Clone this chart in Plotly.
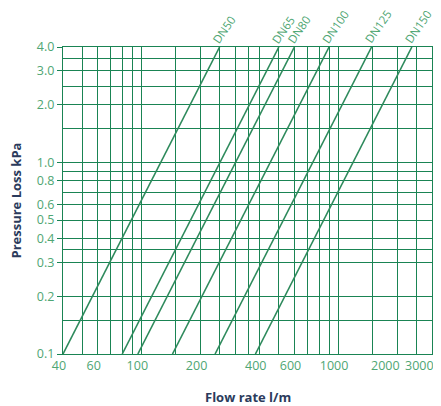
import plotly.graph_objects as go
import math

# Data: each valve size is a straight line on log-log axes from 0.1 kPa to 4.0 kPa
sizes = ["DN50", "DN65", "DN80", "DN100", "DN125", "DN150"]
flow_at_low = [40, 80, 96, 144, 237, 380]        # l/m at 0.1 kPa
flow_at_high = [250, 500, 600, 900, 1480, 2370]  # l/m at 4.0 kPa
pressure_low = 0.1
pressure_high = 4.0

x_grid = [40, 50, 60, 70, 80, 90, 100, 150, 200, 250, 300, 350, 400, 500, 600,
          700, 800, 900, 1000, 1500, 2000, 2500, 3000]
x_ticks = [40, 60, 100, 200, 400, 600, 1000]
x_end_ticks = [2000, 3000]
y_grid = [0.1, 0.15, 0.2, 0.3, 0.35, 0.4, 0.5, 0.6, 0.7, 0.8, 0.9, 1.0, 1.5,
          2.0, 2.5, 3.0, 3.5, 4.0]
y_ticks = [0.1, 0.2, 0.3, 0.4, 0.5, 0.6, 0.8, 1.0, 2.0, 3.0, 4.0]
y_ticktext = ["0.1", "0.2", "0.3", "0.4", "0.5", "0.6", "0.8", "1.0", "2.0", "3.0", "4.0"]

grid_color = "#1a8454"
line_color = "#2e8a5c"
label_color = "#4fa673"
title_color = "#2b3b5c"
font_family = "Open Sans, Noto Sans, sans-serif"

fig = go.Figure()
for name, q0, q1 in zip(sizes, flow_at_low, flow_at_high):
    fig.add_trace(go.Scatter(
        x=[q0, q1], y=[pressure_low, pressure_high], mode="lines",
        line=dict(color=line_color, width=1.6), name=name, showlegend=False,
        hoverinfo="skip"))
    fig.add_annotation(
        x=math.log10(q1), y=math.log10(pressure_high), xref="x", yref="y",
        text=name, textangle=-55, showarrow=False,
        xanchor="left", yanchor="bottom", xshift=-13, yshift=-2,
        font=dict(family=font_family, size=11.5, color=label_color))

# the last two x tick labels are pulled left, as in the reference, to stay inside the picture
for v, shift in zip(x_end_ticks, [-12, -13]):
    fig.add_annotation(
        x=math.log10(v), y=0, xref="x", yref="paper",
        text=str(v), showarrow=False, xanchor="center", yanchor="top",
        xshift=shift, yshift=-1,
        font=dict(family=font_family, size=12.5, color=label_color))

fig.add_annotation(
    x=0.5, y=-0.14, xref="paper", yref="paper", text="<b>Flow rate l/m</b>",
    showarrow=False, xanchor="center", yanchor="middle",
    font=dict(family=font_family, size=13, color=title_color))
fig.add_annotation(
    x=-0.13, y=0.5, xref="paper", yref="paper", text="<b>Pressure Loss kPa</b>",
    showarrow=False, xanchor="center", yanchor="middle", textangle=-90,
    font=dict(family=font_family, size=13, color=title_color))

fig.update_xaxes(
    type="log", range=[math.log10(40), math.log10(3000)], automargin=False,
    tickvals=x_ticks, ticktext=[str(v) for v in x_ticks],
    showgrid=True, gridcolor=grid_color, gridwidth=1.3,
    minor=dict(tickvals=x_grid, showgrid=True, gridcolor=grid_color, gridwidth=1.3, ticks=""),
    ticks="", ticklabelshift=-4,
    tickfont=dict(family=font_family, size=12.5, color=label_color),
    showline=True, linecolor=grid_color, linewidth=1.3, mirror=True,
    zeroline=False,
)
fig.update_yaxes(
    type="log", range=[math.log10(0.1), math.log10(4.0)], automargin=False,
    tickvals=y_ticks, ticktext=y_ticktext,
    showgrid=True, gridcolor=grid_color, gridwidth=1.3,
    minor=dict(tickvals=y_grid, showgrid=True, gridcolor=grid_color, gridwidth=1.3, ticks=""),
    ticks="outside", ticklen=5, tickcolor=grid_color, tickwidth=1.3,
    tickfont=dict(family=font_family, size=12.5, color=label_color),
    showline=True, linecolor=grid_color, linewidth=1.3, mirror=True,
    zeroline=False,
)
# the page adds an 8px body margin, so the figure is sized to fit inside it
fig.update_layout(
    width=433, height=398,
    margin=dict(l=55, r=9, t=39, b=52),
    plot_bgcolor="white", paper_bgcolor="white",
)
fig.write_html("out.html")
